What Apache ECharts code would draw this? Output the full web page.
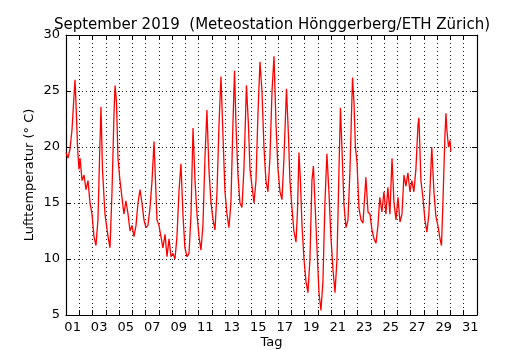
<!DOCTYPE html>
<html>
<head>
<meta charset="utf-8">
<script src="https://cdn.jsdelivr.net/npm/echarts@6/dist/echarts.min.js"></script>
<style>html,body{margin:0;padding:0;background:#fff}#c{width:530px;height:350px}</style>
</head>
<body>
<div id="c"></div>
<script>
// time in days since 1 Sep 2019 00:00
var days = [0.00,0.15,0.30,0.45,0.60,0.68,0.75,0.87,0.98,1.06,1.21,1.36,1.51,1.66,1.81,1.96,2.11,2.26,2.41,2.53,2.64,2.75,2.94,3.17,3.32,3.47,3.62,3.70,3.81,3.92,4.07,4.22,4.37,4.52,4.68,4.83,4.98,5.13,5.28,5.43,5.58,5.73,5.88,6.03,6.18,6.33,6.49,6.64,6.75,6.86,7.01,7.16,7.31,7.47,7.62,7.77,7.92,8.07,8.22,8.37,8.52,8.67,8.82,8.97,9.13,9.28,9.43,9.58,9.73,9.88,10.03,10.18,10.33,10.48,10.63,10.78,10.94,11.09,11.24,11.39,11.54,11.69,11.84,11.99,12.14,12.29,12.44,12.59,12.71,12.82,12.97,13.12,13.27,13.42,13.61,13.76,13.88,14.03,14.18,14.33,14.48,14.63,14.78,14.93,15.08,15.23,15.38,15.54,15.69,15.84,15.99,16.14,16.29,16.44,16.63,16.78,16.89,17.04,17.19,17.35,17.46,17.57,17.68,17.80,17.95,18.10,18.25,18.40,18.55,18.66,18.78,18.93,19.08,19.23,19.38,19.53,19.68,19.83,19.98,20.14,20.29,20.44,20.59,20.70,20.81,20.96,21.12,21.27,21.42,21.61,21.72,21.83,21.95,22.10,22.25,22.40,22.55,22.62,22.78,22.93,23.08,23.23,23.38,23.53,23.67,23.83,23.98,24.13,24.28,24.43,24.59,24.74,24.89,25.04,25.19,25.34,25.49,25.64,25.79,25.94,26.09,26.24,26.39,26.55,26.62,26.77,26.92,27.07,27.22,27.37,27.52,27.59,27.75,27.90,28.05,28.21,28.32,28.43,28.58,28.66,28.73,28.85,28.96,29.03];
var temps = [19.5,19.0,19.8,21.5,24.5,26.0,24.0,20.0,18.0,19.0,17.0,17.5,16.2,17.0,15.0,14.0,12.0,11.2,13.5,19.0,23.6,18.0,14.0,12.0,11.0,16.0,23.0,25.5,24.0,19.0,17.0,15.5,14.0,15.2,14.0,12.5,13.0,12.0,13.0,15.0,16.2,15.0,13.5,12.8,13.0,14.5,17.0,20.5,17.0,13.5,13.0,12.0,11.0,12.2,10.2,11.8,10.2,10.5,10.0,12.0,16.0,18.5,14.0,11.0,10.2,10.5,14.0,21.7,17.0,14.0,12.0,10.8,13.0,19.0,23.3,18.0,15.0,13.5,12.6,16.0,22.0,26.3,21.0,16.0,14.0,12.8,15.0,22.0,26.8,22.0,17.5,15.0,14.6,18.0,25.5,22.0,18.0,16.5,15.0,17.0,23.0,27.6,25.0,20.0,17.0,16.0,19.0,25.0,28.1,22.0,18.0,16.0,15.3,19.0,25.2,21.0,17.0,14.6,12.5,11.5,14.3,19.5,17.0,13.0,10.0,8.0,7.0,10.0,17.0,18.3,15.0,11.0,7.0,5.4,8.0,15.0,19.4,16.0,12.0,9.0,7.0,10.0,18.0,23.5,20.0,15.0,12.8,13.5,18.0,26.2,24.0,20.0,18.6,14.5,13.5,13.2,16.0,17.3,14.2,14.0,12.6,11.8,11.4,13.0,15.5,14.2,16.0,14.0,16.4,14.0,19.0,15.0,13.5,15.5,13.3,14.0,17.5,16.5,17.7,16.0,17.0,16.0,18.0,22.0,22.6,17.0,15.5,13.5,12.4,14.0,18.0,20.0,16.0,13.8,13.0,11.8,11.2,15.0,21.0,23.0,21.5,20.0,20.6,19.6];
var dayLabelPos = [0.5,2.5,4.5,6.5,8.5,10.5,12.5,14.5,16.5,18.5,20.5,22.5,24.5,26.5,28.5,30.5];
var yTicks = [5,10,15,20,25,30];

var pts = days.map(function(d,i){return [d,temps[i]];});
var FONT = 'DejaVu Sans';
var chart = echarts.init(document.getElementById('c'), null, {renderer:'canvas'});
var gridLine = {show:true, lineStyle:{color:'#000', width:1, type:[1,3], opacity:0.9}};
chart.setOption({
  animation:false,
  backgroundColor:'#fff',
  title:{text:'September 2019  (Meteostation Hönggerberg/ETH Zürich)', left:267, top:13, textAlign:'center',
    textStyle:{fontFamily:FONT, fontSize:15, fontWeight:'normal', color:'#000'}},
  grid:{left:66, right:53, top:35, bottom:35, containLabel:false, outerBoundsMode:'none'},
  xAxis:[{
    type:'value', min:0, max:31, interval:1, position:'bottom',
    name:'Tag', nameLocation:'middle', nameGap:21, nameMoveOverlap:false,
    nameTextStyle:{fontFamily:FONT, fontSize:13, color:'#000'},
    axisLine:{show:true, onZero:false, lineStyle:{color:'#000', width:1.2}},
    axisTick:{show:true, inside:true, length:5, lineStyle:{color:'#000'}},
    axisLabel:{show:true, customValues:dayLabelPos, margin:6, fontFamily:FONT, fontSize:13, color:'#000',
      formatter:function(v){var d=Math.floor(v)+1; return (d<10?'0':'')+d;}},
    splitLine:gridLine
  },{
    type:'value', min:0, max:31, interval:1, position:'top',
    axisLine:{show:true, onZero:false, lineStyle:{color:'#000', width:1.2}},
    axisTick:{show:true, inside:true, length:5, lineStyle:{color:'#000'}},
    axisLabel:{show:false}, splitLine:{show:false}
  }],
  yAxis:[{
    type:'value', min:5, max:30, interval:5, position:'left',
    name:'Lufttemperatur (° C)', nameLocation:'middle', nameGap:30, nameRotate:90, nameMoveOverlap:false,
    nameTextStyle:{fontFamily:FONT, fontSize:13, color:'#000'},
    axisLine:{show:true, onZero:false, lineStyle:{color:'#000', width:1.2}},
    axisTick:{show:true, inside:true, length:5, lineStyle:{color:'#000'}},
    axisLabel:{show:true, margin:6, fontFamily:FONT, fontSize:13, color:'#000'},
    splitLine:gridLine
  },{
    type:'value', min:5, max:30, interval:5, position:'right',
    axisLine:{show:true, onZero:false, lineStyle:{color:'#000', width:1.2}},
    axisTick:{show:true, inside:true, length:5, lineStyle:{color:'#000'}},
    axisLabel:{show:false}, splitLine:{show:false}
  }],
  series:[{
    type:'line', data:pts, xAxisIndex:0, yAxisIndex:0,
    showSymbol:false, symbol:'none',
    lineStyle:{color:'#ff0000', width:1.3}
  }]
});
</script>
</body>
</html>
